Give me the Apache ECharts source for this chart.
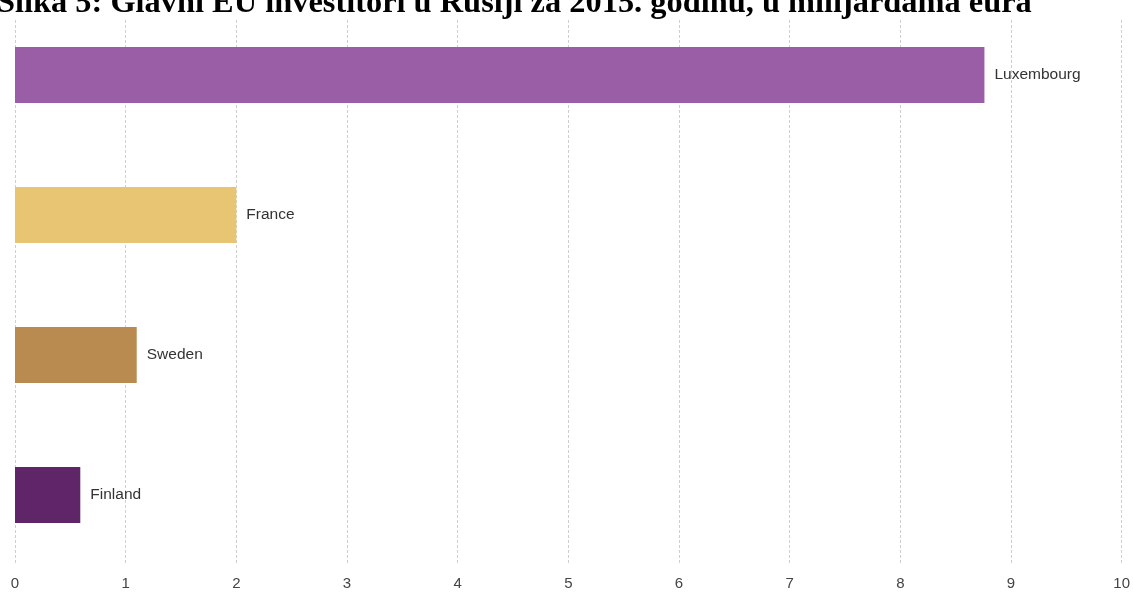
<!DOCTYPE html>
<html><head><meta charset="utf-8">
<script src="https://cdn.jsdelivr.net/npm/echarts@6/dist/echarts.min.js"></script>
<style>html,body{margin:0;padding:0;background:#fff}#c{width:1133px;height:592px}</style>
</head><body><div id="c"></div>
<script>
const titleText = 'Slika 5: Glavni EU investitori u Rusiji za 2015. godinu, u milijardama eura';
const categories = ['Luxembourg', 'France', 'Sweden', 'Finland'];
const values = [8.76, 2.0, 1.1, 0.59];
const colors = ['#9a5ea7', '#e8c573', '#b98b50', '#5f2568'];
const xTicks = [0, 1, 2, 3, 4, 5, 6, 7, 8, 9, 10];
const sans = '"Liberation Sans", Arial, sans-serif';

const chart = echarts.init(document.getElementById('c'));
chart.setOption({
  animation: false,
  grid: { left: 15, right: 11, top: 5, bottom: 27, containLabel: false },
  xAxis: {
    type: 'value', min: 0, max: 10, interval: 1,
    axisLine: { show: false }, axisTick: { show: false },
    axisLabel: { color: '#444', fontSize: 15, fontFamily: sans, margin: 11,
      formatter: v => xTicks.includes(v) ? String(v) : '' },
    splitLine: { show: true, lineStyle: { color: '#cfcfcf', type: [3, 2], width: 1 } }
  },
  yAxis: {
    type: 'category', data: categories, inverse: true,
    axisLine: { show: false }, axisTick: { show: false }, axisLabel: { show: false }
  },
  series: [{
    type: 'bar', barWidth: '40%',
    data: values.map((v, i) => ({ value: v, itemStyle: { color: colors[i] } })),
    label: { show: true, position: 'right', distance: 10, color: '#333', fontSize: 15.5,
      fontFamily: sans, formatter: p => categories[p.dataIndex] }
  }],
  graphic: [{
    type: 'rect', left: 0, top: 0, shape: { width: 1133, height: 20 }, style: { fill: '#fff' }, z: 10
  }, {
    type: 'text', left: -3, top: -12, z: 11,
    style: { text: titleText, font: 'bold 32.4px "Liberation Serif", "Times New Roman", serif', fill: '#000' }
  }]
});
</script></body></html>
